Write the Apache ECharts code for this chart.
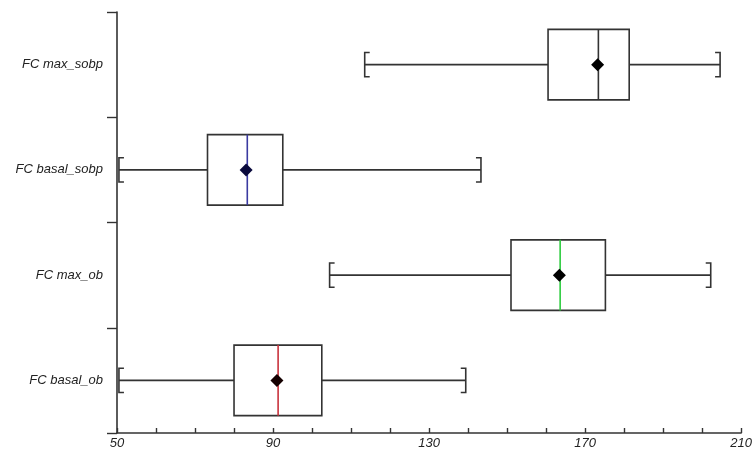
<!DOCTYPE html>
<html>
<head>
<meta charset="utf-8">
<script src="https://cdn.jsdelivr.net/npm/echarts@6/dist/echarts.min.js"></script>
<style>html,body{margin:0;padding:0;background:#fff;}#c{width:755px;height:457px;}</style>
</head>
<body>
<div id="c"></div>
<script>
// categories bottom -> top
var categories = ['FC basal_ob', 'FC max_ob', 'FC basal_sobp', 'FC max_sobp'];
var mins    = [50.5, 104.5, 50.5, 113.5];
var q1s     = [80.0, 151.0, 73.2, 160.5];
var medians = [91.3, 163.6, 83.4, 173.4];
var q3s     = [102.5, 175.2, 92.5, 181.3];
var maxs    = [139.4, 202.2, 143.3, 204.6];
var means   = [91.0, 163.4, 83.1, 173.2];
var xTickLabels = [50, 90, 130, 170, 210];

var medianColors = ['#c8323c', '#2ecc40', '#3a3aa0', '#333333'];
var meanColors = ['#140000', '#000000', '#0a0a3c', '#000000'];

var data = categories.map(function (c, i) {
  return [i, mins[i], q1s[i], medians[i], q3s[i], maxs[i], means[i]];
});

var chart = echarts.init(document.getElementById('c'), null, {renderer: 'canvas'});
var lineColor = '#333333';

function renderItem(params, api) {
  var idx = api.value(0);
  var band = api.size([0, 1])[1];
  var halfBox = band * 0.335;
  var halfCap = band * 0.115;
  var serif = 5;
  var pMin = api.coord([api.value(1), idx]);
  var pQ1 = api.coord([api.value(2), idx]);
  var pMed = api.coord([api.value(3), idx]);
  var pQ3 = api.coord([api.value(4), idx]);
  var pMax = api.coord([api.value(5), idx]);
  var pMean = api.coord([api.value(6), idx]);
  var y = pMin[1];
  var ls = {stroke: lineColor, lineWidth: 1.6, fill: null};
  var d = 6.5;
  return {
    type: 'group',
    children: [
      {type: 'line', shape: {x1: pMin[0], y1: y, x2: pQ1[0], y2: y}, style: ls},
      {type: 'line', shape: {x1: pQ3[0], y1: y, x2: pMax[0], y2: y}, style: ls},
      {type: 'polyline', shape: {points: [[pMin[0] + serif, y - halfCap], [pMin[0], y - halfCap], [pMin[0], y + halfCap], [pMin[0] + serif, y + halfCap]]}, style: ls},
      {type: 'polyline', shape: {points: [[pMax[0] - serif, y - halfCap], [pMax[0], y - halfCap], [pMax[0], y + halfCap], [pMax[0] - serif, y + halfCap]]}, style: ls},
      {type: 'rect', shape: {x: pQ1[0], y: y - halfBox, width: pQ3[0] - pQ1[0], height: 2 * halfBox}, style: {stroke: lineColor, lineWidth: 1.6, fill: '#fff'}},
      {type: 'line', shape: {x1: pMed[0], y1: y - halfBox, x2: pMed[0], y2: y + halfBox}, style: {stroke: medianColors[idx], lineWidth: 1.6}},
      {type: 'polygon', shape: {points: [[pMean[0] - d, y], [pMean[0], y - d], [pMean[0] + d, y], [pMean[0], y + d]]}, style: {fill: meanColors[idx], stroke: null}}
    ]
  };
}

chart.setOption({
  animation: false,
  backgroundColor: '#ffffff',
  grid: {left: 117, right: 12, top: 12, bottom: 24, containLabel: false},
  xAxis: {
    type: 'value',
    min: 50, max: 210, interval: 10,
    splitLine: {show: false},
    axisLine: {show: true, lineStyle: {color: lineColor, width: 1.6}},
    axisTick: {show: true, inside: true, length: 5, lineStyle: {color: lineColor, width: 1.4}},
    axisLabel: {
      margin: 4,
      fontFamily: 'Liberation Sans, Arial, sans-serif',
      fontStyle: 'italic',
      fontSize: 13,
      color: '#222',
      showMaxLabel: true, showMinLabel: true,
      formatter: function (v) { return xTickLabels.indexOf(v) >= 0 ? String(v) : ''; }
    }
  },
  yAxis: {
    type: 'category',
    data: categories,
    boundaryGap: true,
    splitLine: {show: false},
    axisLine: {show: true, lineStyle: {color: lineColor, width: 1.6}},
    axisTick: {show: true, inside: false, length: 10, alignWithLabel: false, lineStyle: {color: lineColor, width: 1.4}},
    axisLabel: {
      margin: 14,
      fontFamily: 'Liberation Sans, Arial, sans-serif',
      fontStyle: 'italic',
      fontSize: 13,
      color: '#222'
    }
  },
  series: [{
    type: 'custom',
    renderItem: renderItem,
    encode: {x: [1, 2, 3, 4, 5, 6], y: 0},
    data: data,
    clip: false
  }]
});
</script>
</body>
</html>
